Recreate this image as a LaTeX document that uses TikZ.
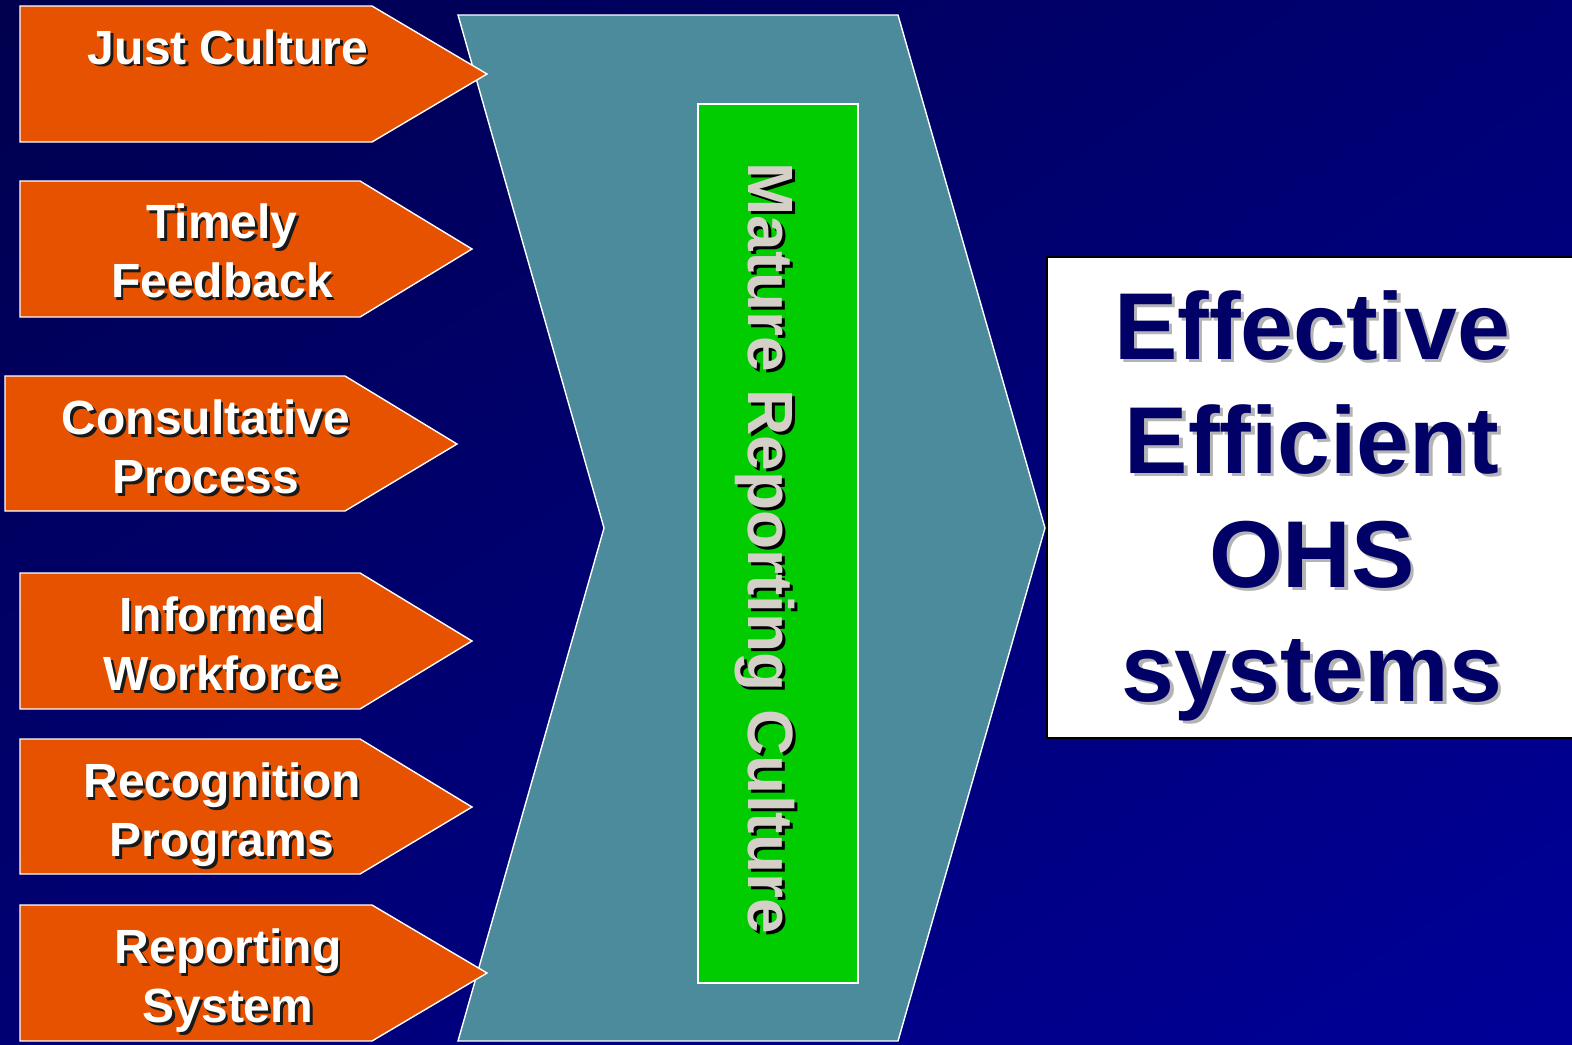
\documentclass[tikz,border=0pt]{standalone}
\usepackage{fontspec}
\setmainfont{Liberation Sans}
\usepackage{xcolor}
\usetikzlibrary{shadings}

\definecolor{bgdark}{HTML}{00004E}
\definecolor{bgmid}{HTML}{000074}
\definecolor{bglight}{HTML}{000098}
\definecolor{pointerorange}{HTML}{E65200}
\definecolor{chevronteal}{HTML}{4B8B9B}
\definecolor{maturegreen}{HTML}{00CC00}
\definecolor{maturegray}{HTML}{D4D0C8}
\definecolor{ohsnavy}{HTML}{000066}
\definecolor{ohsshade}{HTML}{B4B4B4}

\tikzset{
  pointer/.style={fill=pointerorange, draw=white, line width=0.7pt},
  chevron/.style={fill=chevronteal, draw=white, line width=0.7pt},
  maturebox/.style={fill=maturegreen, draw=white, line width=1.2pt},
  ohsbox/.style={fill=white, draw=black, line width=1.2pt},
  pointer label/.style={text=white, inner sep=0pt, align=center,
    font=\bfseries\fontsize{24}{29.5}\selectfont},
  pointer label shadow/.style={xshift=1.3pt, yshift=-1.3pt, pointer label, text=black!90},
  mature label/.style={text=maturegray, inner sep=0pt, anchor=base, rotate=-90,
    font=\bfseries\fontsize{32}{38}\selectfont},
  mature label shadow/.style={xshift=1.5pt, yshift=-1.5pt, mature label, text=black},
  ohs label/.style={text=ohsnavy, inner sep=0pt, anchor=north, align=center,
    font=\bfseries\fontsize{47.5}{57}\selectfont},
  ohs label shadow/.style={xshift=1.7pt, yshift=-1.7pt, ohs label, text=ohsshade}
}

% shadow copy first, then the text itself
\newcommand{\shadowtext}[4]{%
  \node [#3 shadow] (#1-shadow) at (#2) {#4};
  \node [#3] (#1) at (#2) {#4};}

\begin{document}
\begin{tikzpicture}[x=0.5pt,y=0.5pt]
\useasboundingbox (0,0) rectangle (1572,-1044);
\shade [upper left=bgdark, upper right=bgmid, lower left=bgmid, lower right=bglight] (0,0) rectangle (1572,-1044);
% big chevron
\draw [chevron] (458,-15) -- (898,-15) -- (1045,-528) -- (898,-1041) -- (458,-1041) -- (604,-528) -- cycle;
\draw [maturebox] (698,-104) rectangle (858,-983);
\shadowtext{mature}{748,-548}{mature label}{Mature Reporting Culture}
% pointers on the left
\draw [pointer] (20,-6) -- (372,-6) -- (487,-74) -- (372,-142) -- (20,-142) -- cycle;
\draw [pointer] (20,-181) -- (360,-181) -- (472,-249) -- (360,-317) -- (20,-317) -- cycle;
\draw [pointer] (5,-376) -- (345,-376) -- (457,-444) -- (345,-511) -- (5,-511) -- cycle;
\draw [pointer] (20,-573) -- (360,-573) -- (472,-641) -- (360,-709) -- (20,-709) -- cycle;
\draw [pointer] (20,-739) -- (360,-739) -- (472,-807) -- (360,-874) -- (20,-874) -- cycle;
\draw [pointer] (20,-905) -- (372,-905) -- (487,-973) -- (372,-1041) -- (20,-1041) -- cycle;
\shadowtext{just}{228,-47}{pointer label}{Just Culture}
\shadowtext{timely}{222,-251}{pointer label}{Timely\\Feedback}
\shadowtext{consult}{206,-447}{pointer label}{Consultative\\Process}
\shadowtext{informed}{222,-644}{pointer label}{Informed\\Workforce}
\shadowtext{recog}{222,-815}{pointer label}{Recognition\\Programs}
\shadowtext{report}{228,-981}{pointer label}{Reporting\\System}
% result box
\draw [ohsbox] (1047,-257) rectangle (1580,-738);
\shadowtext{ohs}{1312,-290}{ohs label}{Effective\\Efficient\\OHS\\systems}
\end{tikzpicture}
\end{document}
